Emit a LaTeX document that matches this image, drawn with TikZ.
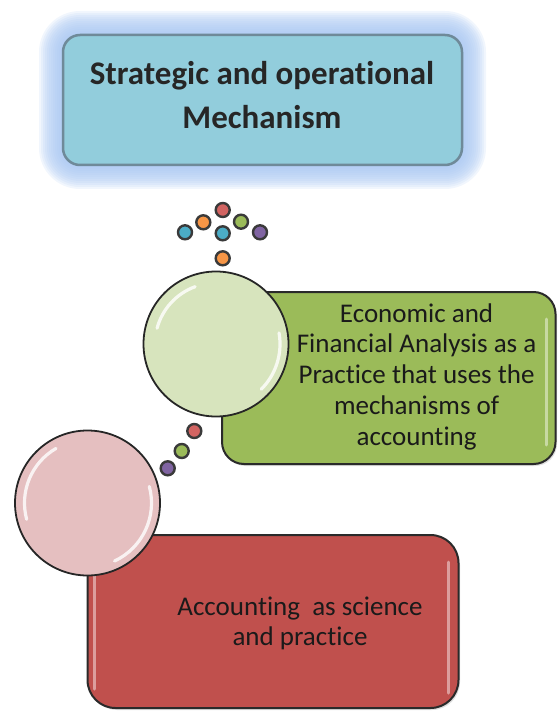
\documentclass[tikz,border=0pt]{standalone}
\usepackage{fontspec}
\setmainfont{Carlito}[Ligatures={NoCommon,NoRare,NoContextual}]
\usetikzlibrary{shadows}
\definecolor{glowc}{HTML}{A9C7F2}
\definecolor{topfill}{HTML}{92CDDC}
\definecolor{topline}{HTML}{6F8A99}
\definecolor{toptextc}{HTML}{262626}
\definecolor{gfill}{HTML}{9BBB59}
\definecolor{gcirc}{HTML}{D7E4BD}
\definecolor{rfill}{HTML}{C0504D}
\definecolor{rcirc}{HTML}{E5BFC0}
\definecolor{boxline}{HTML}{2A2A2A}
\definecolor{textc}{HTML}{1A1A1A}
\definecolor{beadline}{HTML}{3A3A3A}
\definecolor{bred}{HTML}{D26462}
\definecolor{borange}{HTML}{F79646}
\definecolor{bgreen}{HTML}{9BBB59}
\definecolor{bcyan}{HTML}{4BACC6}
\definecolor{bpurple}{HTML}{8064A2}
\begin{document}
\begin{tikzpicture}[x=1pt,y=1pt,
  topbox/.style={draw=topline, line width=2.5pt, fill=topfill, rounded corners=17pt,
    minimum width=399pt, minimum height=130pt, inner sep=0pt},
  panel/.style={draw=boxline, line width=2pt, inner sep=0pt,
    drop shadow={opacity=0.25, shadow xshift=1.5pt, shadow yshift=-2pt}},
  greenbox/.style={panel, fill=gfill, rounded corners=22pt, minimum width=333.5pt, minimum height=172pt},
  redbox/.style={panel, fill=rfill, rounded corners=28pt, minimum width=371pt, minimum height=173pt},
  bubble/.style={circle, draw=black!85, line width=1.8pt, minimum size=145pt, inner sep=0pt, fill=#1},
  bead/.style={circle, draw=beadline, line width=2.4pt, minimum size=14pt, inner sep=0pt, fill=#1,
    drop shadow={opacity=0.3, shadow xshift=0.8pt, shadow yshift=-0.8pt}},
  toptext/.style={font=\fontsize{33}{44}\selectfont\bfseries, text=toptextc, align=center},
  bodytext/.style={font=\fontsize{27}{30.75}\selectfont, text=textc, align=center},
  shine/.style={draw=white, line width=3.2pt, opacity=0.8, line cap=round},
  strip/.style={draw=white, line width=3pt, opacity=0.45, line cap=round}
]
\useasboundingbox (0,0) rectangle (557,-711);

% glow around top box
\foreach \g [evaluate=\g as \r using 17+\g] in {24,22,...,2}
  \fill[glowc, opacity=0.16, rounded corners=\r pt] (63-\g,-35+\g) rectangle (462+\g,-165-\g);

\node[topbox] (tb) at (262.5,-100) {};
\node[toptext] (tt) at (262,-95) {Strategic and operational\\Mechanism};

% beads top
\node[bead=bred]    (d1) at (222.7,-210) {};
\node[bead=borange] (d2) at (203.3,-222.3) {};
\node[bead=bgreen]  (d3) at (241,-221.7) {};
\node[bead=bcyan]   (d4) at (185,-232.3) {};
\node[bead=bcyan]   (d5) at (222.7,-233.3) {};
\node[bead=bpurple] (d6) at (260,-232.3) {};
\node[bead=borange] (d7) at (222.7,-258.3) {};

% green panel
\node[greenbox] (gb) at (388.75,-378) {};
\draw[strip] ([xshift=-10pt,yshift=-28pt]gb.north east) -- ([xshift=-10pt,yshift=20pt]gb.south east);
\node[bodytext] (gt) at (416.6,-376.5) {Economic and\\Financial Analysis as a\\Practice that uses the\\mechanisms of\\accounting};
\node[bubble=gcirc] (gc) at (216,-344) {};
\draw[shine] ([shift={(165:61pt)}]gc.center) arc[start angle=165, end angle=110, radius=61pt];
\draw[shine] ([shift={(10:64pt)}]gc.center) arc[start angle=10, end angle=-45, radius=64pt];

% small beads
\node[bead=bred]    (e1) at (194.3,-431) {};
\node[bead=bgreen]  (e2) at (181.7,-451) {};
\node[bead=bpurple] (e3) at (167.7,-468.3) {};

% red panel
\node[redbox] (rb) at (273,-621.5) {};
\draw[strip] ([xshift=8pt,yshift=-30pt]rb.north west) -- ([xshift=8pt,yshift=20pt]rb.south west);
\draw[strip] ([xshift=-11.5pt,yshift=-28pt]rb.north east) -- ([xshift=-11.5pt,yshift=16pt]rb.south east);
\node[bodytext, font=\fontsize{27}{30}\selectfont] (rt) at (300,-623.3) {Accounting\ \ as science\\and practice};
\node[bubble=rcirc] (rc) at (87.5,-503) {};
\draw[shine] ([shift={(195:63pt)}]rc.center) arc[start angle=195, end angle=120, radius=63pt];
\draw[shine] ([shift={(15:64pt)}]rc.center) arc[start angle=15, end angle=-65, radius=64pt];
\end{tikzpicture}
\end{document}
